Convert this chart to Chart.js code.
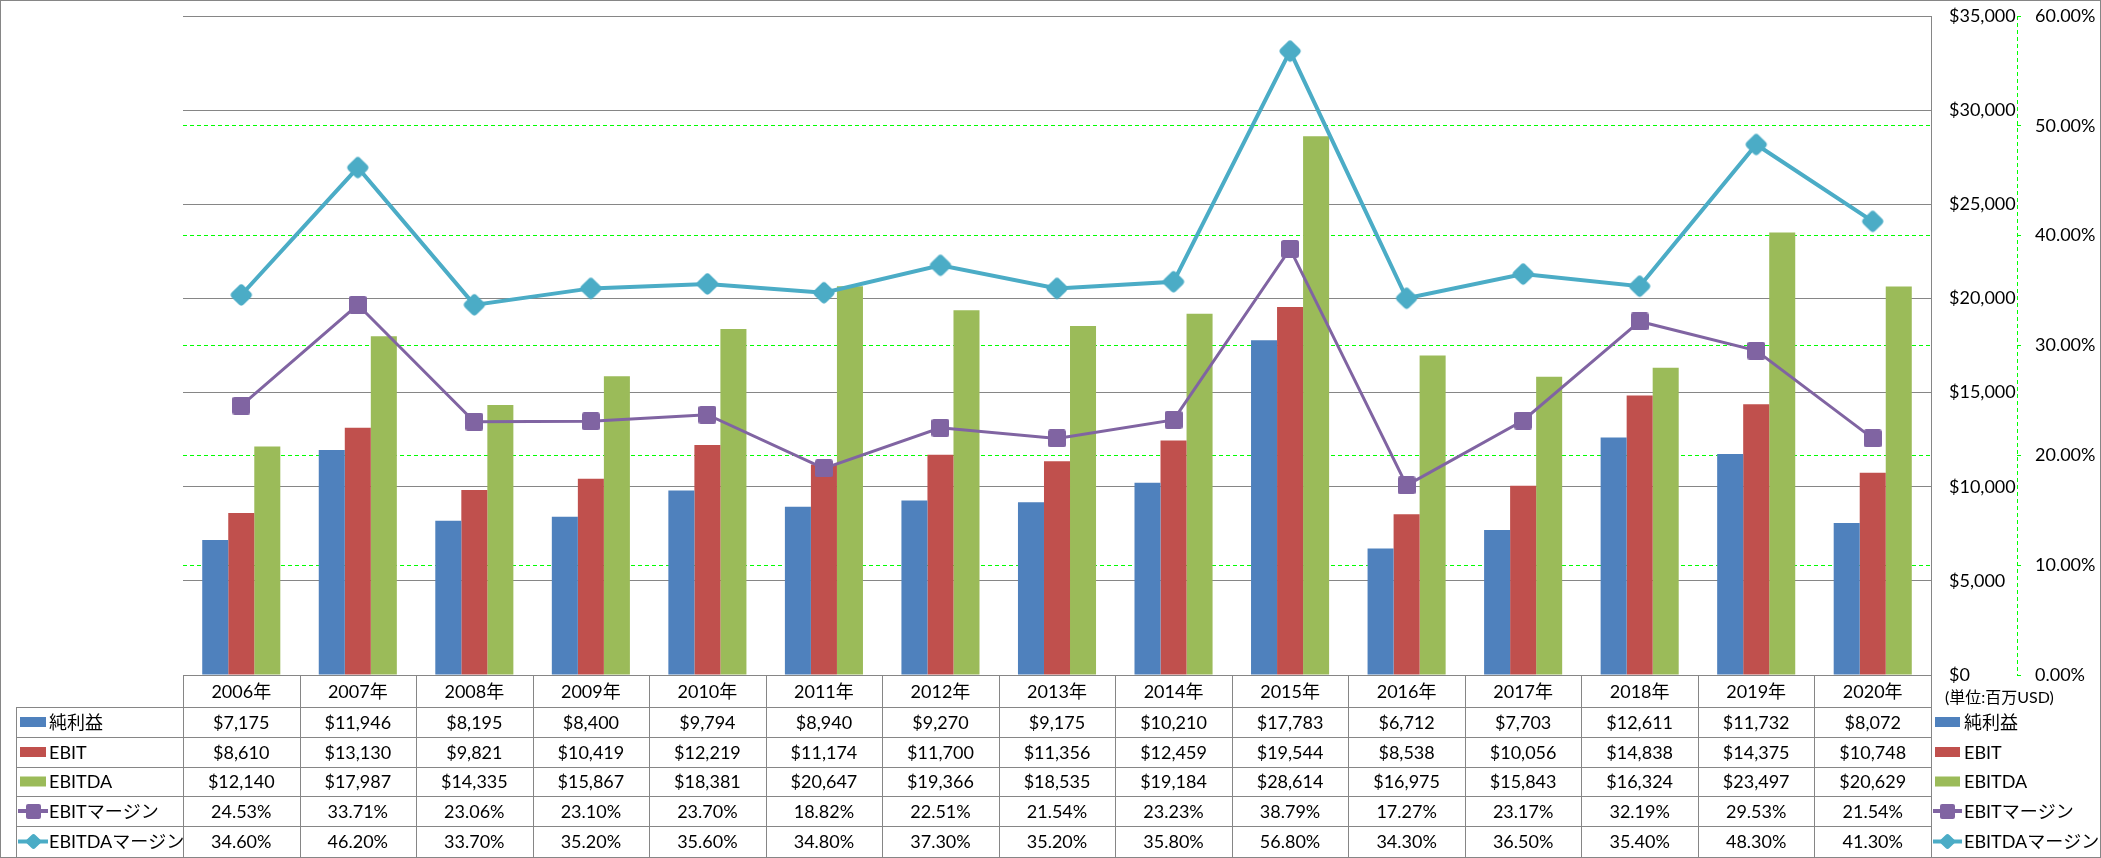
<!DOCTYPE html>
<html>
<head>
<meta charset="utf-8">
<script src="https://cdn.jsdelivr.net/npm/chart.js@4.4.1/dist/chart.umd.min.js"></script>
<style>
  html, body { margin: 0; padding: 0; background: #ffffff; }
  #wrap { width: 2101px; height: 858px; position: relative; }
  canvas { display: block; }
</style>
</head>
<body>
<div id="wrap"><canvas id="c" width="2101" height="858"></canvas></div>
<script>
// ---------- data ----------
const categories = ['2006年','2007年','2008年','2009年','2010年','2011年','2012年','2013年','2014年','2015年','2016年','2017年','2018年','2019年','2020年'];
const netIncome = [7175, 11946, 8195, 8400, 9794, 8940, 9270, 9175, 10210, 17783, 6712, 7703, 12611, 11732, 8072];
const ebit = [8610, 13130, 9821, 10419, 12219, 11174, 11700, 11356, 12459, 19544, 8538, 10056, 14838, 14375, 10748];
const ebitda = [12140, 17987, 14335, 15867, 18381, 20647, 19366, 18535, 19184, 28614, 16975, 15843, 16324, 23497, 20629];
const ebitMargin = [24.53, 33.71, 23.06, 23.10, 23.70, 18.82, 22.51, 21.54, 23.23, 38.79, 17.27, 23.17, 32.19, 29.53, 21.54];
const ebitdaMargin = [34.60, 46.20, 33.70, 35.20, 35.60, 34.80, 37.30, 35.20, 35.80, 56.80, 34.30, 36.50, 35.40, 48.30, 41.30];
const seriesNames = ['純利益', 'EBIT', 'EBITDA', 'EBITマージン', 'EBITDAマージン'];
const dollarAxis = [0, 35000, 5000];   // min, max, step
const percentAxis = [0, 60, 10];       // min, max, step
const unitLabel = '(単位:百万USD)';

// ---------- styles ----------
const C_BLUE = '#4F81BD', C_RED = '#C0504D', C_GREEN = '#9BBB59', C_PURPLE = '#8064A2', C_TEAL = '#4BACC6';
const C_GRID = '#868686', C_DASH = '#00ff00';
const FONT = "Lato, 'Noto Sans CJK JP', sans-serif";
const FS = 18;

const fmtDollar = v => '$' + Number(v).toLocaleString('en-US');
const fmtPct = v => Number(v).toFixed(2) + '%';

function makeMarker(kind, size, color) {
  const c = document.createElement('canvas');
  c.width = size; c.height = size;
  const g = c.getContext('2d');
  g.fillStyle = color;
  const s = size, r = Math.max(2, size * 0.14);
  g.beginPath();
  if (kind === 'square') {
    g.moveTo(r, 0); g.lineTo(s - r, 0); g.quadraticCurveTo(s, 0, s, r);
    g.lineTo(s, s - r); g.quadraticCurveTo(s, s, s - r, s);
    g.lineTo(r, s); g.quadraticCurveTo(0, s, 0, s - r);
    g.lineTo(0, r); g.quadraticCurveTo(0, 0, r, 0);
  } else {
    const h = s / 2, k = r * 0.8;
    g.moveTo(h - k, k); g.quadraticCurveTo(h, 0, h + k, k);
    g.lineTo(s - k, h - k); g.quadraticCurveTo(s, h, s - k, h + k);
    g.lineTo(h + k, s - k); g.quadraticCurveTo(h, s, h - k, s - k);
    g.lineTo(k, h + k); g.quadraticCurveTo(0, h, k, h - k);
  }
  g.closePath();
  g.fill();
  return c;
}
const ptSquare = makeMarker('square', 18, C_PURPLE);
const ptDiamond = makeMarker('diamond', 24, C_TEAL);

function drawKey(ctx, idx, x0, x1, yc) {
  const colors = [C_BLUE, C_RED, C_GREEN, C_PURPLE, C_TEAL];
  ctx.save();
  if (idx < 3) {
    ctx.fillStyle = colors[idx];
    ctx.fillRect(x0 + 2, yc - 5, x1 - x0 - 4, 10);
  } else {
    ctx.strokeStyle = colors[idx];
    ctx.lineWidth = 4;
    ctx.beginPath(); ctx.moveTo(x0, yc); ctx.lineTo(x1, yc); ctx.stroke();
    const m = makeMarker(idx === 3 ? 'square' : 'diamond', idx === 3 ? 15 : 17, colors[idx]);
    ctx.drawImage(m, Math.round((x0 + x1) / 2 - m.width / 2), Math.round(yc - m.height / 2));
  }
  ctx.restore();
}

const tablePlugin = {
  id: 'dataTable',
  afterDraw(chart) {
    const ctx = chart.ctx;
    const ca = chart.chartArea;
    const n = categories.length;
    const xs = chart.scales.x;
    const cw = (ca.right - ca.left) / n;
    const B = ca.bottom;
    const rows = [B, B + 32, B + 62, B + 92, B + 121, B + 151, chart.height - 1];
    const TL = 16;
    ctx.save();
    // grid of the table
    ctx.strokeStyle = C_GRID; ctx.lineWidth = 1;
    ctx.beginPath();
    for (let r = 1; r <= 5; r++) {
      const y = Math.round(rows[r]) + 0.5;
      ctx.moveTo(TL, y); ctx.lineTo(ca.right + 1, y);
    }
    ctx.moveTo(TL + 0.5, rows[1]); ctx.lineTo(TL + 0.5, rows[6]);
    for (let i = 0; i <= n; i++) {
      const x = Math.round(ca.left + i * cw) + 0.5;
      ctx.moveTo(x, B); ctx.lineTo(x, rows[6]);
    }
    ctx.stroke();
    // outer border
    ctx.strokeRect(0.5, 0.5, chart.width - 1, chart.height - 1);

    // dashed percent axis line
    const y1 = chart.scales.y1;
    ctx.strokeStyle = C_DASH; ctx.setLineDash([4, 3]);
    ctx.beginPath();
    ctx.moveTo(Math.round(y1.left) + 0.5, ca.top); ctx.lineTo(Math.round(y1.left) + 0.5, ca.bottom);
    ctx.stroke();
    ctx.setLineDash([]);

    // texts
    ctx.fillStyle = '#000';
    ctx.font = FS + 'px ' + FONT;
    ctx.textAlign = 'center'; ctx.textBaseline = 'middle';
    const mid = r => (rows[r] + rows[r + 1]) / 2 + 1;
    const rowsData = [netIncome, ebit, ebitda, ebitMargin, ebitdaMargin];
    for (let i = 0; i < n; i++) {
      const cx = xs.getPixelForValue(i);
      ctx.fillText(categories[i], cx, mid(0));
      for (let s = 0; s < 5; s++) {
        const v = rowsData[s][i];
        ctx.fillText(s < 3 ? fmtDollar(v) : fmtPct(v), cx, mid(s + 1));
      }
    }
    // row headers + right legend
    ctx.textAlign = 'left';
    for (let s = 0; s < 5; s++) {
      const yc = mid(s + 1) - 1;
      drawKey(ctx, s, 18, 48, yc);
      ctx.fillStyle = '#000';
      ctx.fillText(seriesNames[s], 49, yc + 1);
      drawKey(ctx, s, ca.right + 2, ca.right + 31, yc);
      ctx.fillStyle = '#000';
      ctx.fillText(seriesNames[s], ca.right + 33, yc + 1);
    }
    // unit label
    ctx.font = '16px ' + FONT;
    ctx.fillText(unitLabel, ca.right + 14, B + 23);
    ctx.restore();
  }
};

new Chart(document.getElementById('c'), {
  type: 'bar',
  data: {
    labels: categories,
    datasets: [
      { type: 'line', label: seriesNames[3], data: ebitMargin, yAxisID: 'y1', order: 0,
        borderColor: C_PURPLE, backgroundColor: C_PURPLE, borderWidth: 3,
        pointStyle: ptSquare, pointRadius: 9, pointHoverRadius: 9, tension: 0 },
      { type: 'line', label: seriesNames[4], data: ebitdaMargin, yAxisID: 'y1', order: 0,
        borderColor: C_TEAL, backgroundColor: C_TEAL, borderWidth: 4,
        pointStyle: ptDiamond, pointRadius: 12, pointHoverRadius: 12, tension: 0 },
      { label: seriesNames[0], data: netIncome, backgroundColor: C_BLUE, yAxisID: 'y', order: 1,
        barPercentage: 1, categoryPercentage: 0.67 },
      { label: seriesNames[1], data: ebit, backgroundColor: C_RED, yAxisID: 'y', order: 1,
        barPercentage: 1, categoryPercentage: 0.67 },
      { label: seriesNames[2], data: ebitda, backgroundColor: C_GREEN, yAxisID: 'y', order: 1,
        barPercentage: 1, categoryPercentage: 0.67 }
    ]
  },
  options: {
    responsive: false,
    devicePixelRatio: 1,
    animation: false,
    events: [],
    layout: { padding: { left: 183, top: 13, bottom: 183, right: 0 } },
    plugins: { legend: { display: false }, tooltip: { enabled: false } },
    scales: {
      x: { type: 'category', display: false, offset: true },
      y: {
        position: 'right', weight: 0,
        min: dollarAxis[0], max: dollarAxis[1],
        ticks: { stepSize: dollarAxis[2], callback: v => fmtDollar(v), color: '#000',
                 font: { family: FONT, size: FS }, padding: 18 },
        grid: { color: C_GRID, lineWidth: 1, drawTicks: false },
        border: { display: true, color: C_GRID, width: 1 },
        afterFit(s) { s.width = 86; s.paddingTop = 0; s.paddingBottom = 0; }
      },
      y1: {
        position: 'right', weight: 1,
        min: percentAxis[0], max: percentAxis[1],
        ticks: { stepSize: percentAxis[2], callback: v => fmtPct(v), color: '#000',
                 font: { family: FONT, size: FS }, padding: 14 },
        grid: {
          color: c => (c.tick && (c.tick.value === percentAxis[0] || c.tick.value === percentAxis[1])) ? 'rgba(0,0,0,0)' : C_DASH,
          lineWidth: 1, drawTicks: true, tickLength: 4, tickColor: C_DASH, tickWidth: 1
        },
        border: { display: false, dash: [4, 3] },
        afterFit(s) { s.width = 84; s.paddingTop = 0; s.paddingBottom = 0; }
      }
    }
  },
  plugins: [tablePlugin]
});
</script>
</body>
</html>
